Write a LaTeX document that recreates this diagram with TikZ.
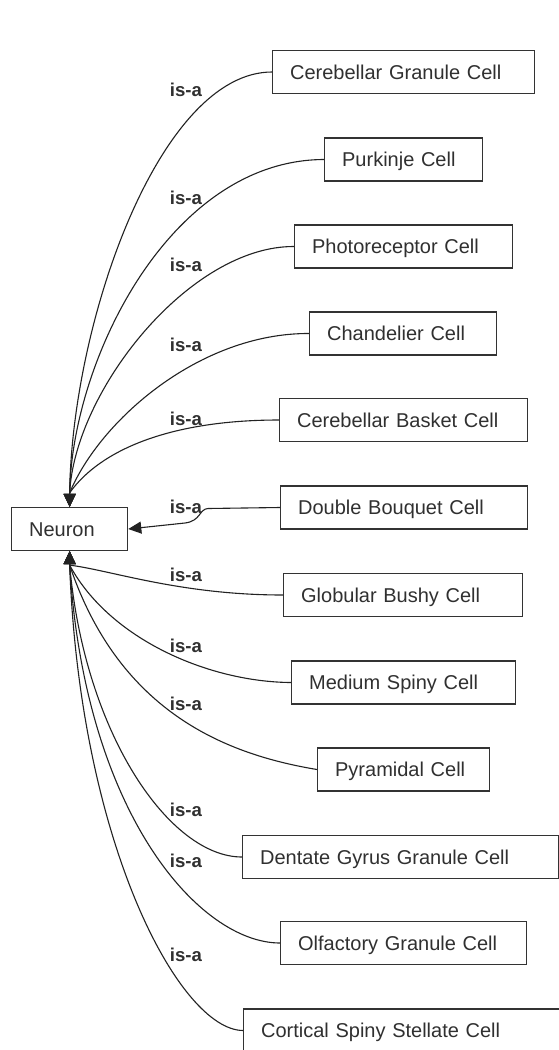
\documentclass[tikz,border=0pt]{standalone}
\usepackage{fontspec}
\setmainfont{Liberation Sans}
\usetikzlibrary{arrows.meta,calc}
\definecolor{boxc}{HTML}{333333}
\definecolor{linec}{HTML}{222222}
\definecolor{txtc}{HTML}{303030}
\tikzset{
  cellbox/.style={draw=boxc, line width=1.3pt, fill=white, anchor=west,
    inner xsep=17.5pt, inner ysep=0pt, minimum height=43pt,
    text height=14.3pt, text depth=0pt, align=left,
    font=\fontsize{20}{24}\selectfont, text=txtc},
  isa/.style={draw=linec, line width=1.1pt, -{Triangle[length=13pt,width=12pt]}},
  lbl/.style={font=\bfseries\fontsize{18.6}{22}\selectfont, text=txtc,
    inner sep=0pt, text height=13.3pt, text depth=0pt},
}
\begin{document}
\begin{tikzpicture}[x=1pt,y=-1pt]
\useasboundingbox[fill=white] (0,0) rectangle (559,1050);

% nodes
\node[cellbox, text width=81pt]  (neuron) at (11,529)    {Neuron};
\node[cellbox, text width=227pt] (cgc)  at (272,72)    {Cerebellar Granule Cell};
\node[cellbox, text width=123pt] (pc)   at (324,159.5) {Purkinje Cell};
\node[cellbox, text width=183pt] (prc)  at (294,246.5) {Photoreceptor Cell};
\node[cellbox, text width=152pt] (cc)   at (309,333.5) {Chandelier Cell};
\node[cellbox, text width=213pt] (cbc)  at (279,420)   {Cerebellar Basket Cell};
\node[cellbox, text width=212pt] (dbc)  at (280,507.5) {Double Bouquet Cell};
\node[cellbox, text width=204pt] (gbc)  at (283,595)   {Globular Bushy Cell};
\node[cellbox, text width=189pt] (msc)  at (291,682.5) {Medium Spiny Cell};
\node[cellbox, text width=137pt] (pyc)  at (317,769.5) {Pyramidal Cell};
\node[cellbox, text width=281pt] (dgc)  at (242,857)   {Dentate Gyrus Granule Cell};
\node[cellbox, text width=211pt] (ogc)  at (280,943)   {Olfactory Granule Cell};
\node[cellbox, text width=287pt] (cssc) at (243,1030.5) {Cortical Spiny Stellate Cell};

\coordinate (ntop) at ($(neuron.north)+(0,-14)$);
\coordinate (nbot) at ($(neuron.south)+(0,14)$);

% edges into the top of Neuron
\draw[isa] (cgc.west) .. controls (160,72) and (72,320) .. (ntop) -- (neuron.north);
\draw[isa] (pc.west) .. controls (170,160) and (72,360) .. (ntop) -- (neuron.north);
\draw[isa] (prc.west) .. controls (190,246) and (75,390) .. (ntop) -- (neuron.north);
\draw[isa] (cc.west) .. controls (200,333) and (100,420) .. (ntop) -- (neuron.north);
\draw[isa] (cbc.west) .. controls (170,420) and (100,450) .. (ntop) -- (neuron.north);
% edge into the right of Neuron
\draw[isa] (dbc.west) -- (208,508.5) .. controls (199,509) and (201,521) .. (185,523) -- (neuron.east);
% edges into the bottom of Neuron
\draw[isa] (gbc.west) .. controls (180,595) and (110,570) .. (nbot) -- (neuron.south);
\draw[isa] (msc.west) .. controls (210,682) and (110,640) .. (nbot) -- (neuron.south);
\draw[isa] (pyc.west) .. controls (230,755) and (120,715) .. (nbot) -- (neuron.south);
\draw[isa] (dgc.west) .. controls (170,857) and (85,735) .. (nbot) -- (neuron.south);
\draw[isa] (ogc.west) .. controls (200,943) and (85,815) .. (nbot) -- (neuron.south);
\draw[isa] (cssc.west) .. controls (180,1030) and (80,845) .. (nbot) -- (neuron.south);

% labels
\node[lbl] (l1)  at (186,90)  {is-a};
\node[lbl] (l2)  at (186,198) {is-a};
\node[lbl] (l3)  at (186,265) {is-a};
\node[lbl] (l4)  at (186,345) {is-a};
\node[lbl] (l5)  at (186,419) {is-a};
\node[lbl] (l6)  at (186,507) {is-a};
\node[lbl] (l7)  at (186,575) {is-a};
\node[lbl] (l8)  at (186,646) {is-a};
\node[lbl] (l9)  at (186,704) {is-a};
\node[lbl] (l10) at (186,810) {is-a};
\node[lbl] (l11) at (186,861) {is-a};
\node[lbl] (l12) at (186,955) {is-a};
\end{tikzpicture}
\end{document}
